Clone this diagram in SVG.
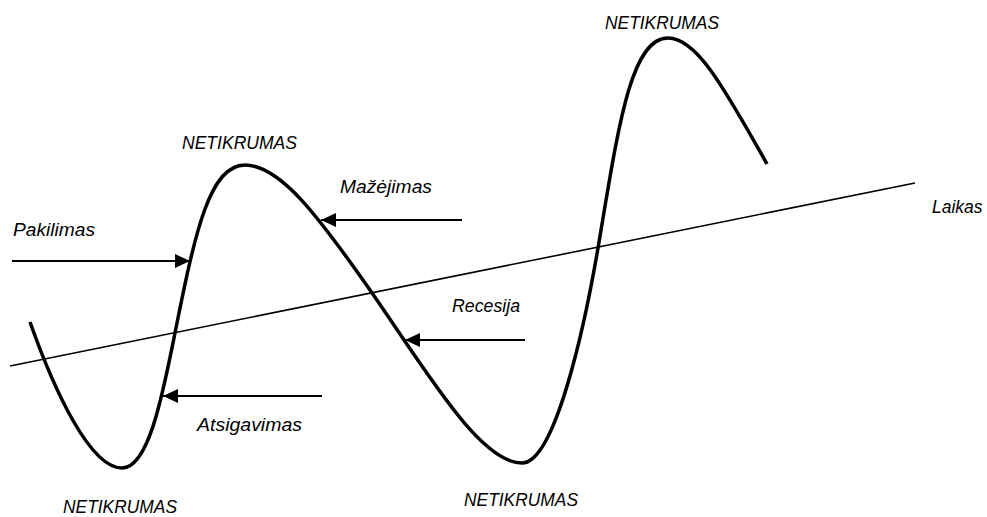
<svg xmlns="http://www.w3.org/2000/svg" width="987" height="517" viewBox="0 0 987 517">
<style>
.lbl{font-family:"Liberation Sans",Arial,sans-serif;font-style:italic;font-size:17.5px;fill:#000}
.curve{fill:none;stroke:#000;stroke-width:3.5;stroke-linecap:butt}
.trend{fill:none;stroke:#000;stroke-width:1.6}
.arr{fill:none;stroke:#000;stroke-width:2;marker-end:url(#ah)}
</style>
<defs>
<marker id="ah" markerUnits="userSpaceOnUse" markerWidth="16" markerHeight="16" viewBox="0 0 16 16" refX="15" refY="8" orient="auto">
<path d="M0,1 L15,8 L0,15 Z" fill="#000"/>
</marker>
</defs>
<rect width="987" height="517" fill="#fff"/>
<g id="trend-line">
<line class="trend" x1="10" y1="366" x2="915" y2="183"/>
</g>
<g id="business-cycle-curve">
<path class="curve" d="M30,322 C54,390 90,468 122,468 C150,468 164,387 176,328 C195.6,230 210,165 245,165 C280,165 318.4,216.3 370,290 C427,372 480,463 522,463 C555,463 584.5,327 598,248 C618,130 630,38 668,38 C695,38 720,80 767,164"/>
</g>
<g id="connectors">
<line class="arr" x1="12" y1="261" x2="190" y2="261"/>
<line class="arr" x1="462" y1="220" x2="321" y2="220"/>
<line class="arr" x1="525" y1="340" x2="405" y2="340"/>
<line class="arr" x1="322" y1="396" x2="163" y2="396"/>
</g>
<g id="label-netikrumas-top"><text class="lbl" x="605" y="29" textLength="114" lengthAdjust="spacingAndGlyphs">NETIKRUMAS</text></g>
<g id="label-netikrumas-left"><text class="lbl" x="182" y="149" textLength="115" lengthAdjust="spacingAndGlyphs">NETIKRUMAS</text></g>
<g id="label-netikrumas-bottom-left"><text class="lbl" x="63" y="513" textLength="114" lengthAdjust="spacingAndGlyphs">NETIKRUMAS</text></g>
<g id="label-netikrumas-bottom-mid"><text class="lbl" x="464" y="506" textLength="114" lengthAdjust="spacingAndGlyphs">NETIKRUMAS</text></g>
<g id="label-mazejimas"><text class="lbl" x="340" y="193" textLength="92" lengthAdjust="spacingAndGlyphs">Mažėjimas</text></g>
<g id="label-pakilimas"><text class="lbl" x="13" y="236" textLength="82" lengthAdjust="spacingAndGlyphs">Pakilimas</text></g>
<g id="label-recesija"><text class="lbl" x="452" y="312" textLength="68" lengthAdjust="spacingAndGlyphs">Recesija</text></g>
<g id="label-atsigavimas"><text class="lbl" x="197" y="431" textLength="105" lengthAdjust="spacingAndGlyphs">Atsigavimas</text></g>
<g id="label-laikas"><text class="lbl" x="932" y="213">Laikas</text></g>
</svg>
